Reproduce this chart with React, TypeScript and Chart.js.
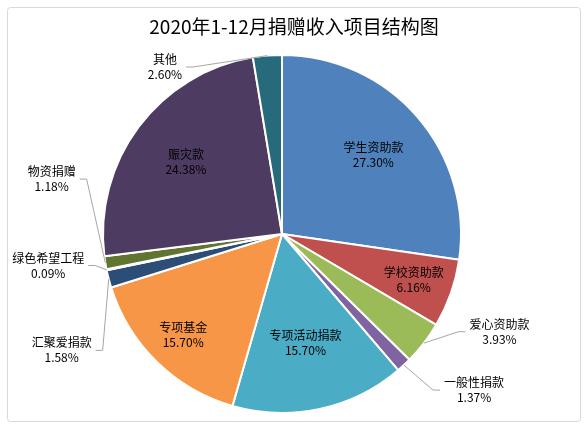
import { useEffect, useRef } from 'react';
import { Chart, registerables } from 'chart.js';

Chart.register(...registerables);

const TITLE = '2020年1-12月捐赠收入项目结构图';
const categories = ['学生资助款', '学校资助款', '爱心资助款', '一般性捐款', '专项活动捐款', '专项基金', '汇聚爱捐款', '绿色希望工程', '物资捐赠', '赈灾款', '其他'];
const shares = [27.30, 6.16, 3.93, 1.37, 15.70, 15.70, 1.58, 0.09, 1.18, 24.38, 2.60];

const COLORS = ['#4F81BD', '#C0504D', '#9BBB59', '#8064A2', '#4BACC6', '#F79646', '#2C4D75', '#772C2A', '#5F7530', '#4D3B62', '#276A7C'];
const FONT = '"Noto Sans CJK SC", "Noto Sans", sans-serif';

// label placement: inside -> fraction of radius along slice middle,
// outside -> text centre relative to the pie centre (in radius units)
type LabelPos = { inside: number } | { dx: number; dy: number; side: 'left' | 'right' };
const labelLayout: LabelPos[] = [
  { inside: 0.675 },
  { inside: 0.78 },
  { dx: 1.215, dy: 0.546, side: 'right' },
  { dx: 1.073, dy: 0.872, side: 'right' },
  { inside: 0.62 },
  { inside: 0.79 },
  { dx: -1.231, dy: 0.65, side: 'left' },
  { dx: -1.306, dy: 0.176, side: 'left' },
  { dx: -1.287, dy: -0.307, side: 'left' },
  { inside: 0.67 },
  { dx: -0.654, dy: -0.933, side: 'left' },
];

const decorPlugin = {
  id: 'decor',
  beforeDraw(chart: Chart) {
    const ctx = chart.ctx;
    ctx.save();
    ctx.fillStyle = '#ffffff';
    ctx.fillRect(0, 0, chart.width, chart.height);
    ctx.strokeStyle = '#D9D9D9';
    ctx.lineWidth = 1;
    ctx.beginPath();
    ctx.roundRect(7.5, 7.5, 573, 414, 3);
    ctx.stroke();
    ctx.restore();
  },
  afterDraw(chart: Chart) {
    const ctx = chart.ctx;
    ctx.save();
    ctx.fillStyle = '#000000';
    ctx.font = `19px ${FONT}`;
    ctx.textAlign = 'center';
    ctx.textBaseline = 'middle';
    ctx.fillText(TITLE, 294, 27);

    const meta = chart.getDatasetMeta(0);
    ctx.font = `12px ${FONT}`;
    meta.data.forEach((el: any, i: number) => {
      const { x, y, startAngle, endAngle, outerRadius } = el.getProps(['x', 'y', 'startAngle', 'endAngle', 'outerRadius'], true);
      const mid = (startAngle + endAngle) / 2;
      const lines = [categories[i], `${shares[i].toFixed(2)}%`];
      const lay = labelLayout[i];
      let cx: number;
      let cy: number;
      if ('inside' in lay) {
        cx = x + Math.cos(mid) * outerRadius * lay.inside;
        cy = y + Math.sin(mid) * outerRadius * lay.inside;
      } else {
        cx = x + lay.dx * outerRadius;
        cy = y + lay.dy * outerRadius;
        const w = Math.max(...lines.map(t => ctx.measureText(t).width));
        const edge = lay.side === 'right' ? cx - w / 2 : cx + w / 2;
        const sgn = lay.side === 'right' ? -1 : 1;
        const px = x + Math.cos(mid) * outerRadius;
        const py = y + Math.sin(mid) * outerRadius;
        ctx.strokeStyle = '#A6A6A6';
        ctx.lineWidth = 1;
        ctx.beginPath();
        ctx.moveTo(edge + sgn * 4, cy);
        ctx.lineTo(edge + sgn * 11, cy);
        ctx.lineTo(px, py);
        ctx.stroke();
      }
      ctx.fillStyle = '#000000';
      ctx.fillText(lines[0], cx, cy - 7.5);
      ctx.fillText(lines[1], cx, cy + 7.5);
    });
    ctx.restore();
  },
};

export default function App() {
  const canvasRef = useRef<HTMLCanvasElement>(null);
  const chartRef = useRef<Chart | null>(null);

  useEffect(() => {
    document.body.style.margin = '0';
    if (!canvasRef.current) return;
    if (chartRef.current) chartRef.current.destroy();

    chartRef.current = new Chart(canvasRef.current, {
      type: 'pie',
      data: {
        labels: categories,
        datasets: [{
          data: shares,
          backgroundColor: COLORS,
          borderColor: '#ffffff',
          borderWidth: 2,
        }],
      },
      options: {
        responsive: false,
        animation: false,
        layout: { padding: { left: 102, right: 126, top: 54, bottom: 13 } },
        plugins: {
          legend: { display: false },
          title: { display: false },
          tooltip: { enabled: false },
        },
      },
      plugins: [decorPlugin],
    });

    return () => {
      if (chartRef.current) {
        chartRef.current.destroy();
        chartRef.current = null;
      }
    };
  }, []);

  return (
    <div style={{ width: 588, height: 427 }}>
      <canvas ref={canvasRef} width={588} height={427} />
    </div>
  );
}
